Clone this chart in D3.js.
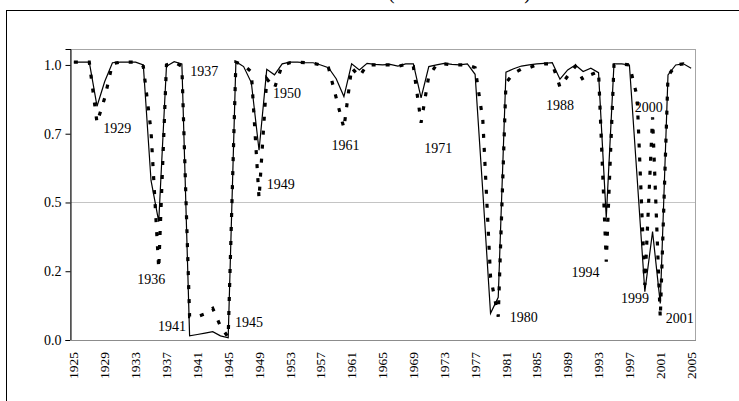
<!DOCTYPE html>
<html>
<head>
<meta charset="utf-8">
<script src="https://cdn.jsdelivr.net/npm/d3@7"></script>
<style>
body { margin: 0; background: #fff; }
svg { display: block; }
text { font-family: "Liberation Serif", "Times New Roman", serif; fill: #000; }
</style>
</head>
<body>
<svg id="chart" width="739" height="401"></svg>
<script>
(function() {

var years = d3.range(1925, 2006);

// solid line
var solidSeries = [
    1.010, 1.010, 1.010, 0.850, 0.940, 1.008, 1.010, 1.010, 1.010, 1.000,   // 1925-1934
    0.580, 0.430, 0.995, 1.012, 1.004, 0.015, 0.020, 0.025, 0.030, 0.015,   // 1935-1944
    0.008, 1.012, 0.994, 0.936, 0.690, 0.984, 0.964, 1.004, 1.010, 1.010,   // 1945-1954
    1.008, 1.008, 1.000, 0.990, 0.950, 0.885, 1.004, 0.982, 1.006, 1.002,   // 1955-1964
    1.000, 1.002, 0.996, 1.004, 1.004, 0.880, 0.994, 1.000, 1.006, 1.002,   // 1965-1974
    1.000, 1.004, 0.966, 0.540, 0.097, 0.155, 0.974, 0.986, 0.996, 1.000,   // 1975-1984
    1.004, 1.006, 1.008, 0.948, 0.982, 1.000, 0.976, 0.988, 0.972, 0.445,   // 1985-1994
    1.004, 1.004, 1.000, 0.590, 0.176, 0.394, 0.133, 0.964, 1.000, 1.004,   // 1995-2004
    0.988                                                                   // 2005
];

// dotted line
var dottedSeries = [
    1.010, 1.010, 1.010, 0.790, 0.880, 1.005, 1.010, 1.010, 1.010, 0.995,
    0.760, 0.260, 1.000, 1.010, 0.995, 0.085, 0.085, 0.095, 0.115, 0.050,
    0.010, 1.010, 1.000, 0.975, 0.515, 0.950, 0.915, 1.000, 1.008, 1.010,
    1.008, 1.006, 1.000, 0.990, 0.880, 0.770, 0.990, 0.958, 1.000, 1.000,
    1.000, 1.000, 0.995, 1.002, 0.995, 0.790, 0.960, 1.000, 1.004, 1.000,
    1.000, 1.000, 0.990, 0.800, 0.230, 0.085, 0.935, 0.970, 0.985, 0.990,
    1.000, 1.004, 1.004, 0.920, 0.960, 0.995, 0.945, 0.965, 0.976, 0.285,
    1.000, 1.004, 1.000, 0.885, 0.200, 0.810, 0.080, 0.960, 1.000, 1.004,
    0.985
];

var yTicks = [0, 0.25, 0.5, 0.75, 1.0];
var yTickLabels = ['0.0', '0.2', '0.5', '0.7', '1.0'];
var xTickYears = d3.range(1925, 2006, 4);

// year labels written on the chart, anchored in data units (year, value)
var noteLabels = ['1929', '1937', '1950', '1961', '1949', '1936', '1941', '1945',
                  '1971', '1988', '2000', '1980', '1994', '1999', '2001'];
var noteYears  = [1928.8, 1940.1, 1950.8, 1958.4, 1950.0, 1933.2, 1935.9, 1945.9,
                  1970.4, 1986.2, 1997.7, 1981.5, 1989.5, 1995.9, 2001.7];
var noteValues = [0.753, 0.960, 0.880, 0.690, 0.549, 0.204, 0.033, 0.047,
                  0.680, 0.835, 0.829, 0.065, 0.229, 0.133, 0.060];

var plot = { left: 70, top: 49, right: 695, bottom: 340 };

var svg = d3.select('#chart');

var x = d3.scalePoint().domain(years).range([plot.left, plot.right]).padding(0.5);
var yearX = d3.scaleLinear().domain([1925, 2005]).range([x(1925), x(2005)]);
var y = d3.scaleLinear().domain([0, 1.058]).range([plot.bottom, plot.top]);

// title, only the foot of its brackets shows at the top edge
svg.append('text')
    .attr('x', 388).attr('y', -1.5)
    .attr('textLength', 143).attr('lengthAdjust', 'spacing')
    .style('font-size', '20px')
    .text('(1925\u20132005)');

// outer chart frame, runs off the right and bottom of the picture
svg.append('rect')
    .attr('x', 6.5).attr('y', 10.5)
    .attr('width', 900).attr('height', 600)
    .attr('fill', 'none').attr('stroke', '#000').attr('stroke-width', 1);

// plot area border
svg.append('rect')
    .attr('x', plot.left + 0.5).attr('y', plot.top + 0.5)
    .attr('width', plot.right - plot.left).attr('height', plot.bottom - plot.top)
    .attr('fill', 'none').attr('stroke', '#a6a6a6').attr('stroke-width', 1);

// gridline at 0.5
svg.append('line')
    .attr('x1', plot.left).attr('x2', plot.right)
    .attr('y1', Math.round(y(0.5)) + 0.5).attr('y2', Math.round(y(0.5)) + 0.5)
    .attr('stroke', '#c4c4c4').attr('stroke-width', 1);

// y axis
var yAxis = d3.axisLeft(y)
    .tickValues(yTicks)
    .tickSize(5)
    .tickPadding(4)
    .tickFormat(function(d, i) { return yTickLabels[i]; });
var yg = svg.append('g')
    .attr('transform', 'translate(' + (plot.left + 0.5) + ',0)')
    .call(yAxis);
yg.select('.domain').attr('stroke', '#000');
yg.selectAll('.tick line').attr('stroke', '#000');
yg.selectAll('.tick text')
    .style('font-size', '14px')
    .style('font-family', '"Liberation Serif", serif')
    .attr('fill', '#000');

// x axis: gray baseline, rotated year labels, no tick marks
svg.append('line')
    .attr('x1', plot.left).attr('x2', plot.right + 1)
    .attr('y1', plot.bottom + 0.5).attr('y2', plot.bottom + 0.5)
    .attr('stroke', '#8c8c8c').attr('stroke-width', 1);

svg.append('g').selectAll('text')
    .data(xTickYears)
    .join('text')
    .attr('transform', function(d) { return 'translate(' + x(d) + ',' + (plot.bottom + 12) + ') rotate(-90)'; })
    .attr('text-anchor', 'end')
    .attr('dy', '0.34em')
    .style('font-size', '13.5px')
    .text(function(d) { return d; });

// series
var line = d3.line()
    .x(function(d, i) { return x(years[i]); })
    .y(function(d) { return y(d); });

svg.append('path')
    .datum(dottedSeries)
    .attr('d', line)
    .attr('fill', 'none')
    .attr('stroke', '#000')
    .attr('stroke-width', 3.2)
    .attr('stroke-dasharray', '4,10');

svg.append('path')
    .datum(solidSeries)
    .attr('d', line)
    .attr('fill', 'none')
    .attr('stroke', '#000')
    .attr('stroke-width', 1.2)
    .attr('stroke-linejoin', 'miter');

// year notes
svg.append('g').selectAll('text')
    .data(noteLabels)
    .join('text')
    .attr('x', function(d, i) { return yearX(noteYears[i]); })
    .attr('y', function(d, i) { return y(noteValues[i]); })
    .style('font-size', '14px')
    .text(function(d) { return d; });

})();
</script>
</body>
</html>
